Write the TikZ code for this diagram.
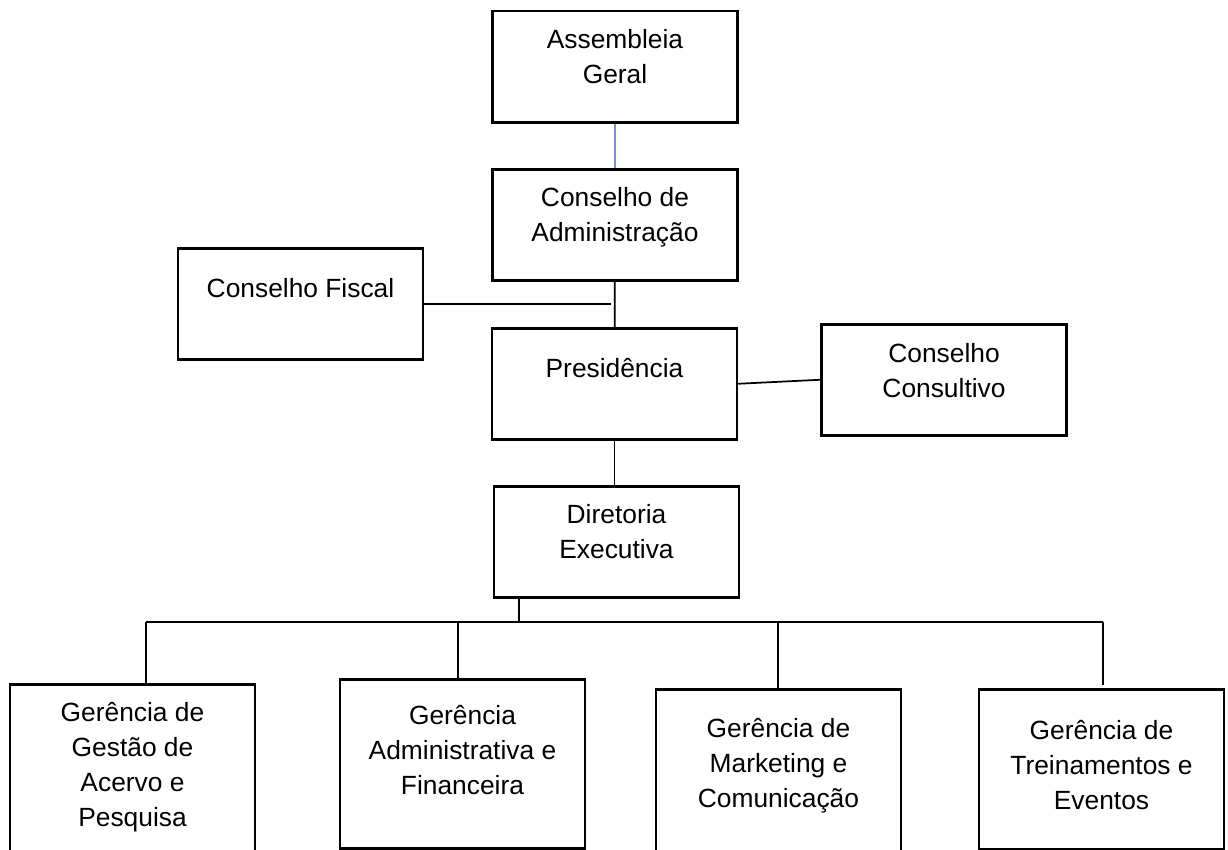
\documentclass[tikz,border=0pt]{standalone}
\usepackage{fontspec}
\setmainfont{Liberation Sans}
\usepackage{xcolor}
\definecolor{LinkBlue}{HTML}{6F93D8}
\usepackage{tikz}
\usetikzlibrary{positioning}
\usetikzlibrary{calc}

\begin{document}
\begin{tikzpicture}[
    auto,
    orgBox/.style={rectangle,
    draw=black,
    line width=0.5mm,
    inner sep=0pt,
    anchor=north,
    minimum width=4.9cm,
    align=center,
    text height=1.44cm,
    text depth=0.78cm,
    font=\fontsize{15}{19.84}\selectfont}
    ]
    \useasboundingbox (0,0) rectangle (24.56,-17);
    \node[orgBox] (1) [xshift=12.3cm, yshift=-0.2cm] {Assembleia\\Geral};
    \node[orgBox] (2) [xshift=12.3cm, yshift=-3.36cm] {Conselho de\\Administração};
    \draw[line width=0.25mm, LinkBlue] (1) -- (2);
    \node[orgBox] (3) [xshift=6.01cm, yshift=-4.94cm, text height=0.98cm, text depth=1.24cm] {Conselho Fiscal};
    \node[orgBox] (4) [xshift=12.29cm, yshift=-6.54cm, text height=0.98cm, text depth=1.24cm] {Presidência};
    \draw[line width=0.35mm] (2) -- (4);
    \draw[line width=0.35mm] (3.east) -- ([xshift=-0.08cm]3.east -| 2.south);
    \node[orgBox] (5) [xshift=18.88cm, yshift=-6.46cm, text height=1.46cm, text depth=0.76cm] {Conselho\\Consultivo};
    \draw[line width=0.35mm] (4.east) -- (5.west);
    \node[orgBox] (6) [xshift=12.33cm, yshift=-9.7cm] {Diretoria\\Executiva};
    \draw[line width=0.35mm] (4.south) -- (4.south |- 6.north);
    % lower level
    \node[orgBox] (7) [xshift=2.65cm, yshift=-13.66cm, text height=2.84cm, text depth=0.6cm] {Gerência de\\Gestão de\\Acervo e\\Pesquisa};
    \node[orgBox] (8) [xshift=9.25cm, yshift=-13.56cm, text height=2.3cm, text depth=1.08cm] {Gerência\\Administrativa e\\Financeira};
    \node[orgBox] (9) [xshift=15.57cm, yshift=-13.76cm, text height=2.36cm, text depth=1.04cm] {Gerência de\\Marketing e\\Comunicação};
    \node[orgBox] (10) [xshift=22.03cm, yshift=-13.76cm, text height=2.4cm, text depth=0.8cm] {Gerência de\\Treinamentos e\\Eventos};
    \coordinate (b0) at (10.38,-12.44);
    \coordinate (b1) at (2.92,-12.44);
    \coordinate (b2) at (9.16,-12.44);
    \coordinate (b3) at (15.56,-12.44);
    \coordinate (b4) at (22.06,-12.44);
    \draw[line width=0.35mm] (b0 |- 6.south) -- (b0);
    \draw[line width=0.35mm] (b1) -- (b4);
    \draw[line width=0.35mm] (b1) -- (b1 |- 7.north);
    \draw[line width=0.35mm] (b2) -- (b2 |- 8.north);
    \draw[line width=0.35mm] (b3) -- (b3 |- 9.north);
    \draw[line width=0.35mm] (b4) -- ([yshift=0.06cm]b4 |- 10.north);
  \end{tikzpicture}
\end{document}
